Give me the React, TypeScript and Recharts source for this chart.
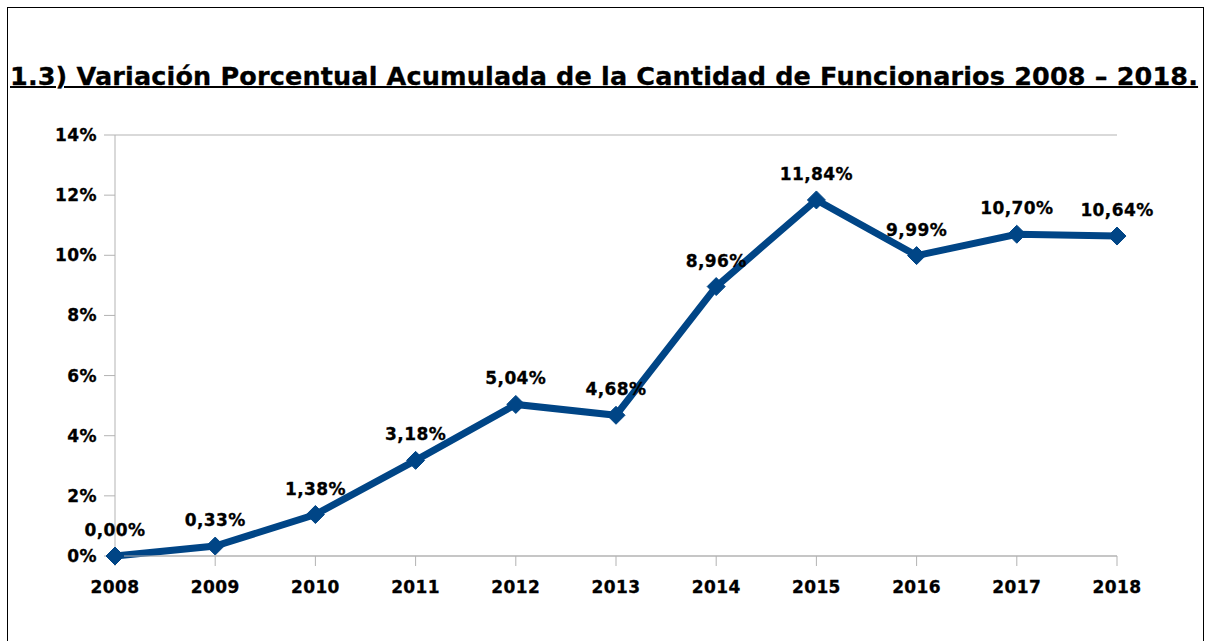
import React from "react";
import { LineChart, Line, XAxis, YAxis, CartesianGrid, LabelList } from "recharts";

const years = ["2008", "2009", "2010", "2011", "2012", "2013", "2014", "2015", "2016", "2017", "2018"];
const values = [0, 0.33, 1.38, 3.18, 5.04, 4.68, 8.96, 11.84, 9.99, 10.7, 10.64];
const yTicks = [0, 2, 4, 6, 8, 10, 12, 14];
const title = "1.3) Variación Porcentual Acumulada de la Cantidad de Funcionarios 2008 – 2018.";

const data = years.map((y, i) => ({ year: y, value: values[i] }));

const FONT = "'DejaVu Sans', Verdana, sans-serif";
const BLUE = "#004586";
const GRID = "#b3b3b3";

const fmt = (v: number) => v.toFixed(2).replace(".", ",") + "%";

const textStyle = {
  fill: "#000",
  fontSize: 17,
  fontWeight: "bold" as const,
  fontFamily: FONT,
  letterSpacing: 0.4,
  stroke: "#000",
  strokeWidth: 0.3,
};

const Diamond = (props: any) => {
  const { cx, cy } = props;
  if (cx == null || cy == null) return null;
  const r = 9;
  return (
    <polygon
      points={`${cx},${cy - r} ${cx + r},${cy} ${cx},${cy + r} ${cx - r},${cy}`}
      fill={BLUE}
      stroke={BLUE}
    />
  );
};

export default function App() {
  return (
    <div
      style={{
        position: "absolute",
        left: 0,
        top: 0,
        width: 1208,
        height: 641,
        overflow: "hidden",
        background: "#fff",
        fontFamily: FONT,
      }}
    >
      <div
        style={{
          position: "absolute",
          left: 7,
          top: 7,
          width: 1195,
          height: 700,
          border: "1.5px solid #000",
        }}
      />
      <div
        style={{
          position: "absolute",
          left: 10,
          top: 61,
          fontSize: 25.5,
          letterSpacing: 0.15,
          fontWeight: "bold",
          textDecoration: "underline",
          textDecorationThickness: 2,
          whiteSpace: "nowrap",
          color: "#000",
          fontFamily: FONT,
          WebkitTextStroke: "0.3px #000",
        }}
      >
        {title}
      </div>
      <div style={{ position: "absolute", left: 0, top: 0 }}>
        <LineChart
          width={1208}
          height={641}
          data={data}
          margin={{ top: 135, right: 91, left: 55, bottom: 55 }}
        >
          <CartesianGrid vertical={false} stroke={GRID} strokeWidth={1} />
          <XAxis
            dataKey="year"
            height={30}
            tickSize={10}
            tickMargin={15}
            axisLine={{ stroke: GRID }}
            tickLine={{ stroke: GRID }}
            tick={textStyle}
            interval={0}
          />
          <YAxis
            yAxisId="l"
            width={60}
            domain={[0, 14]}
            ticks={yTicks}
            tickFormatter={(v: number) => `${v}%`}
            tickSize={11}
            tickMargin={7}
            axisLine={{ stroke: GRID }}
            tickLine={{ stroke: GRID }}
            tick={textStyle}
          />
          <YAxis
            yAxisId="r"
            orientation="right"
            width={0}
            domain={[0, 14]}
            ticks={yTicks}
            tick={false}
            tickLine={false}
            axisLine={{ stroke: GRID }}
          />
          <Line
            yAxisId="l"
            type="linear"
            dataKey="value"
            stroke={BLUE}
            strokeWidth={7}
            dot={<Diamond />}
            activeDot={false}
            isAnimationActive={false}
          >
            <LabelList
              dataKey="value"
              position="top"
              offset={20}
              formatter={(v: any) => fmt(Number(v))}
              style={textStyle}
            />
          </Line>
        </LineChart>
      </div>
    </div>
  );
}
